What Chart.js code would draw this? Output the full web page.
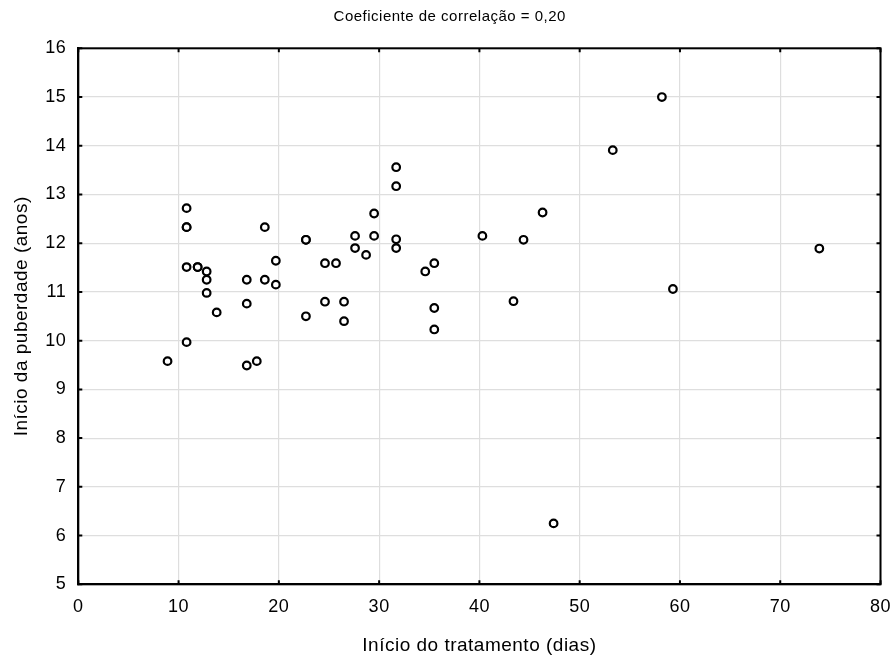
<!DOCTYPE html>
<html>
<head>
<meta charset="utf-8">
<script src="https://cdn.jsdelivr.net/npm/chart.js@4/dist/chart.umd.min.js"></script>
<style>
  html, body { margin: 0; padding: 0; background: #ffffff; }
  #wrap { width: 892px; height: 657px; }
</style>
</head>
<body>
<div id="wrap"><canvas id="c" width="892" height="657"></canvas></div>
<script>
// Início do tratamento (dias)
const inicioTratamento = [
  10.8, 10.8, 10.8, 18.6, 22.7, 22.7, 10.8, 11.9, 11.9, 12.8,
  12.8, 12.8, 13.8, 16.8, 16.8, 18.6, 19.7, 19.7, 22.7, 10.8,
  8.9, 16.8, 17.8, 31.7, 31.7, 29.5, 27.6, 29.5, 31.7, 31.7,
  27.6, 28.7, 24.6, 25.7, 35.5, 34.6, 40.3, 24.6, 26.5, 26.5,
  35.5, 35.5, 58.2, 53.3, 46.3, 44.4, 43.4, 59.3, 47.4, 73.9
];
// Início da puberdade (anos)
const inicioPuberdade = [
  12.72, 12.33, 12.33, 12.33, 12.07, 12.07, 11.51, 11.51, 11.51, 11.42,
  11.25, 10.98, 10.58, 11.25, 10.76, 11.25, 11.64, 11.15, 10.50, 9.97,
  9.58, 9.49, 9.58, 13.56, 13.17, 12.61, 12.15, 12.15, 12.08, 11.90,
  11.90, 11.76, 11.59, 11.59, 11.59, 11.42, 12.15, 10.80, 10.80, 10.40,
  10.67, 10.23, 15.00, 13.91, 12.63, 12.07, 10.81, 11.06, 6.25, 11.89
];
const xTicks = [0, 10, 20, 30, 40, 50, 60, 70, 80];
const yTicks = [5, 6, 7, 8, 9, 10, 11, 12, 13, 14, 15, 16];

const tituloGrafico = 'Coeficiente de correlação = 0,20';
const tituloX = 'Início do tratamento (dias)';
const tituloY = 'Início da puberdade (anos)';

const pontos = inicioTratamento.map((x, i) => ({ x: x, y: inicioPuberdade[i] }));

const FONT = "'Liberation Sans', Arial, sans-serif";

// slightly spaced lettering for every label on the canvas
const espacamento = {
  id: 'espacamento',
  beforeUpdate(chart) { chart.ctx.letterSpacing = '0.5px'; },
  beforeDraw(chart) { chart.ctx.letterSpacing = '0.5px'; }
};

// the chart title sits a little right of the canvas centre
const posicaoTitulo = {
  id: 'posicaoTitulo',
  afterLayout(chart) {
    if (chart.titleBlock) {
      chart.titleBlock.left = 19;
      chart.titleBlock.right = chart.chartArea.right;
    }
  }
};

// black frame around the plot with inward tick marks on all four sides
const moldura = {
  id: 'moldura',
  afterDraw(chart) {
    const { ctx, chartArea: a, scales } = chart;
    const len = 4;
    ctx.save();
    ctx.strokeStyle = '#000000';
    ctx.lineWidth = 2;
    ctx.beginPath();
    xTicks.forEach(v => {
      const px = scales.x.getPixelForValue(v);
      ctx.moveTo(px, a.bottom); ctx.lineTo(px, a.bottom - len);
      ctx.moveTo(px, a.top); ctx.lineTo(px, a.top + len);
    });
    yTicks.forEach(v => {
      const py = scales.y.getPixelForValue(v);
      ctx.moveTo(a.left, py); ctx.lineTo(a.left + len, py);
      ctx.moveTo(a.right, py); ctx.lineTo(a.right - len, py);
    });
    ctx.stroke();
    ctx.strokeRect(a.left, a.top, a.right - a.left, a.bottom - a.top);
    ctx.restore();
  }
};

new Chart(document.getElementById('c'), {
  type: 'scatter',
  data: {
    datasets: [{
      data: pontos,
      pointRadius: 3.8,
      pointHoverRadius: 3.8,
      pointBorderWidth: 2.2,
      pointBorderColor: '#000000',
      pointBackgroundColor: '#ffffff',
      showLine: false
    }]
  },
  options: {
    responsive: false,
    animation: false,
    devicePixelRatio: 1,
    layout: { padding: { left: 0, right: 11.5, top: 0, bottom: 0 } },
    plugins: {
      legend: { display: false },
      tooltip: { enabled: false },
      title: {
        display: true,
        text: tituloGrafico,
        color: '#000000',
        font: { family: FONT, size: 15, weight: 'normal', lineHeight: 1.2 },
        padding: { top: 8, bottom: 22.3 }
      }
    },
    scales: {
      x: {
        type: 'linear',
        min: 0, max: 80,
        afterFit(s) { s.height = 72.7; s.paddingLeft = 0; s.paddingRight = 0; },
        afterBuildTicks(s) { s.ticks = xTicks.map(v => ({ value: v })); },
        ticks: {
          color: '#000000',
          padding: 12,
          font: { family: FONT, size: 18 },
          maxRotation: 0
        },
        grid: { color: '#dedede', lineWidth: 1.2, drawTicks: false },
        border: { display: true, color: '#000000', width: 2 },
        title: {
          display: true,
          text: tituloX,
          color: '#000000',
          font: { family: FONT, size: 19, lineHeight: 1.2 },
          padding: { top: 0, bottom: 0.1 }
        }
      },
      y: {
        type: 'linear',
        min: 5, max: 16,
        afterFit(s) { s.width = 78.3; s.paddingTop = 0; s.paddingBottom = 0; },
        afterBuildTicks(s) { s.ticks = yTicks.map(v => ({ value: v })); },
        ticks: {
          color: '#000000',
          padding: 12,
          font: { family: FONT, size: 18 }
        },
        grid: { color: '#dedede', lineWidth: 1.2, drawTicks: false },
        border: { display: true, color: '#000000', width: 2 },
        title: {
          display: true,
          text: tituloY,
          color: '#000000',
          font: { family: FONT, size: 19, lineHeight: 1.2 },
          padding: { top: 10.6, bottom: 0 }
        }
      }
    }
  },
  plugins: [espacamento, posicaoTitulo, moldura]
});
</script>
</body>
</html>
